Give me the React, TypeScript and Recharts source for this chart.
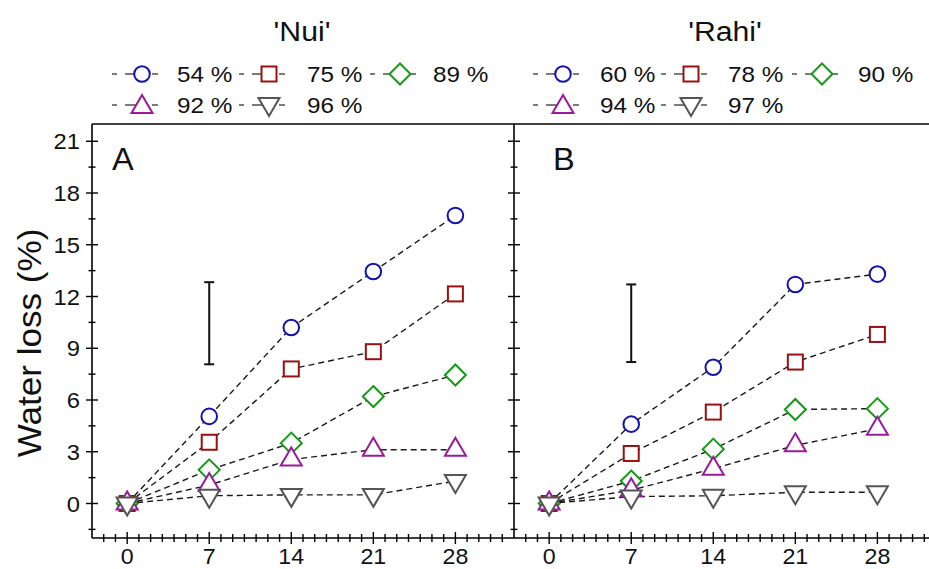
import React from 'react';
import { ComposedChart, Line, Scatter, ErrorBar, XAxis, YAxis, ReferenceLine } from 'recharts';

const DAYS = [0, 7, 14, 21, 28];

// 'Nui' (panel A), water loss % by storage RH
const NUI_54 = [0, 5.05, 10.2, 13.45, 16.7];
const NUI_75 = [0, 3.55, 7.8, 8.8, 12.15];
const NUI_89 = [0, 1.95, 3.5, 6.2, 7.45];
const NUI_92 = [0, 1.07, 2.55, 3.12, 3.12];
const NUI_96 = [0, 0.45, 0.5, 0.5, 1.3];

// 'Rahi' (panel B)
const RAHI_60 = [0, 4.6, 7.9, 12.7, 13.3];
const RAHI_78 = [0, 2.9, 5.3, 8.2, 9.8];
const RAHI_90 = [0, 1.3, 3.15, 5.45, 5.5];
const RAHI_94 = [0, 0.77, 2.02, 3.37, 4.33];
const RAHI_97 = [0, 0.4, 0.45, 0.65, 0.65];

const NUI_LABELS = ['54 %', '75 %', '89 %', '92 %', '96 %'];
const RAHI_LABELS = ['60 %', '78 %', '90 %', '94 %', '97 %'];

// LSD bars shown above day 7
const NUI_LSD = [{ day: 7, y: 10.45, err: 2.38 }];
const RAHI_LSD = [{ day: 7, y: 10.45, err: 2.25 }];

const Y_TICKS = [-1.5, 0, 1.5, 3, 4.5, 6, 7.5, 9, 10.5, 12, 13.5, 15, 16.5, 18, 19.5, 21];
const Y_LABELED = [0, 3, 6, 9, 12, 15, 18, 21];
const X_TICKS = [-2, -1, 0, 1, 2, 3, 4, 5, 6, 7, 8, 9, 10, 11, 12, 13, 14, 15, 16, 17, 18, 19, 20, 21, 22, 23, 24, 25, 26, 27, 28, 29, 30, 31, 32];
const X_LABELED = [0, 7, 14, 21, 28];

const SERIES = [
  { key: 's0', shape: 'circle', color: '#1212b0' },
  { key: 's1', shape: 'square', color: '#9a1010' },
  { key: 's2', shape: 'diamond', color: '#149a14' },
  { key: 's3', shape: 'triangle', color: '#9a1a9a' },
  { key: 's4', shape: 'triangleDown', color: '#555555' },
];

const FONT = "'Liberation Sans', Arial, sans-serif";

const toRows = (cols: number[][]) =>
  DAYS.map((day, i) => {
    const row: any = { day };
    cols.forEach((c, j) => (row[`s${j}`] = c[i]));
    return row;
  });

const nuiRows = toRows([NUI_54, NUI_75, NUI_89, NUI_92, NUI_96]);
const rahiRows = toRows([RAHI_60, RAHI_78, RAHI_90, RAHI_94, RAHI_97]);

function Marker({ shape, cx, cy, color }: any) {
  const st = { fill: '#fff', stroke: color, strokeWidth: 2 };
  if (shape === 'circle') return <circle cx={cx} cy={cy} r={7.8} {...st} />;
  if (shape === 'square') return <rect x={cx - 7.5} y={cy - 7.5} width={15} height={15} {...st} />;
  if (shape === 'diamond')
    return <polygon points={`${cx},${cy - 10.5} ${cx + 10.5},${cy} ${cx},${cy + 10.5} ${cx - 10.5},${cy}`} {...st} />;
  if (shape === 'triangle')
    return <polygon points={`${cx},${cy - 12} ${cx + 10.5},${cy + 6} ${cx - 10.5},${cy + 6}`} {...st} />;
  return <polygon points={`${cx},${cy + 12} ${cx + 10.5},${cy - 6} ${cx - 10.5},${cy - 6}`} {...st} />;
}

const YTick = ({ x, y, payload, showLabel }: any) => {
  const major = Y_LABELED.includes(payload.value);
  const len = major ? 6 : 3.5;
  return (
    <g>
      <line x1={x - len} x2={x + len} y1={y} y2={y} stroke="#000" strokeWidth={1.4} />
      {showLabel && major && (
        <text transform={`translate(${x - 12},${y + 8}) scale(1.08,1)`} textAnchor="end" fontSize={22} fontFamily={FONT} fill="#111">
          {payload.value}
        </text>
      )}
    </g>
  );
};

const XTick = ({ x, y, payload }: any) => {
  const major = X_LABELED.includes(payload.value);
  const len = major ? 6 : 4;
  return (
    <g>
      <line x1={x} x2={x} y1={y - len} y2={y + len} stroke="#000" strokeWidth={1.4} />
      {major && (
        <text transform={`translate(${x},${y + 25.5}) scale(1.08,1)`} textAnchor="middle" fontSize={21.5} fontFamily={FONT} fill="#111">
          {payload.value}
        </text>
      )}
    </g>
  );
};

function Panel({ rows, lsd, width, yWidth, rightMargin, showYLabels }: any) {
  return (
    <ComposedChart width={width} height={569} data={rows} margin={{ top: 124, right: rightMargin, bottom: 0, left: 0 }}>
      <XAxis
        type="number"
        dataKey="day"
        domain={[-3, 33]}
        ticks={X_TICKS}
        interval={0}
        height={31}
        tickSize={0}
        tickMargin={0}
        tickLine={false}
        axisLine={{ stroke: '#000', strokeWidth: 1.6 }}
        tick={(p: any) => <XTick {...p} />}
        allowDataOverflow
      />
      <YAxis
        type="number"
        domain={[-2, 22]}
        ticks={Y_TICKS}
        interval={0}
        width={yWidth}
        tickSize={0}
        tickMargin={0}
        tickLine={false}
        axisLine={{ stroke: '#000', strokeWidth: 1.6 }}
        tick={(p: any) => <YTick {...p} showLabel={showYLabels} />}
        allowDataOverflow
      />
      <ReferenceLine y={22} stroke="#000" strokeWidth={1.6} />
      <Scatter data={lsd} dataKey="y" shape={() => <g />} isAnimationActive={false}>
        <ErrorBar dataKey="err" direction="y" width={5} stroke="#111" strokeWidth={2} isAnimationActive={false} />
      </Scatter>
      {SERIES.map((s) => (
        <Line
          key={s.key}
          dataKey={s.key}
          type="linear"
          stroke="#1a1a1a"
          strokeWidth={1.4}
          strokeDasharray="6 4"
          activeDot={false}
          isAnimationActive={false}
          dot={(p: any) => <Marker key={`${s.key}-${p.index}`} shape={s.shape} cx={p.cx} cy={p.cy} color={s.color} />}
        />
      ))}
    </ComposedChart>
  );
}

function LegendBlock({ labels, cxs, txs }: any) {
  const rowsY = [74, 105];
  return (
    <g>
      {labels.map((lab: string, i: number) => {
        const cx = cxs[i % 3];
        const cy = rowsY[Math.floor(i / 3)];
        const s = SERIES[i];
        return (
          <g key={lab}>
            <line x1={cx - 30} x2={cx - 25} y1={cy} y2={cy} stroke="#333" strokeWidth={1.3} />
            <line x1={cx - 17} x2={cx} y1={cy} y2={cy} stroke="#333" strokeWidth={1.3} />
            <line x1={cx + 10} x2={cx + 16} y1={cy} y2={cy} stroke="#333" strokeWidth={1.3} />
            <Marker shape={s.shape} cx={cx} cy={s.shape === 'triangle' ? cy + 2 : s.shape === 'triangleDown' ? cy - 1 : cy} color={s.color} />
            <text transform={`translate(${txs[i % 3]},${cy + 8}) scale(1.08,1)`} fontSize={22.5} fontFamily={FONT} fill="#111">
              {lab}
            </text>
          </g>
        );
      })}
    </g>
  );
}

export default function App() {
  return (
    <div style={{ position: 'fixed', left: 0, top: 0, width: 929, height: 569, overflow: 'hidden', background: '#fff' }}>
      <div style={{ position: 'absolute', left: 0, top: 0 }}>
        <Panel rows={nuiRows} lsd={NUI_LSD} width={530} yWidth={92} rightMargin={16} showYLabels />
      </div>
      <div style={{ position: 'absolute', left: 494, top: 0 }}>
        <Panel rows={rahiRows} lsd={RAHI_LSD} width={442} yWidth={20} rightMargin={0} showYLabels={false} />
      </div>
      <svg width={929} height={569} style={{ position: 'absolute', left: 0, top: 0, pointerEvents: 'none' }}>
        <text transform="translate(302,41) scale(1.12,1)" textAnchor="middle" fontSize={27} fontFamily={FONT} fill="#111">'Nui'</text>
        <text transform="translate(725,41) scale(1.12,1)" textAnchor="middle" fontSize={27} fontFamily={FONT} fill="#111">'Rahi'</text>
        <LegendBlock labels={NUI_LABELS} cxs={[142, 269, 400]} txs={[177, 307, 433]} />
        <LegendBlock labels={RAHI_LABELS} cxs={[563, 691, 822]} txs={[600, 728, 858]} />
        <text transform="translate(112,170) scale(1.05,1)" fontSize={31} fontFamily={FONT} fill="#111">A</text>
        <text transform="translate(553,170) scale(1.05,1)" fontSize={31} fontFamily={FONT} fill="#111">B</text>
        <text transform="translate(41,343) rotate(-90) scale(1.08,1)" textAnchor="middle" fontSize={32.5} fontFamily={FONT} fill="#111">
          Water loss (%)
        </text>
      </svg>
    </div>
  );
}
